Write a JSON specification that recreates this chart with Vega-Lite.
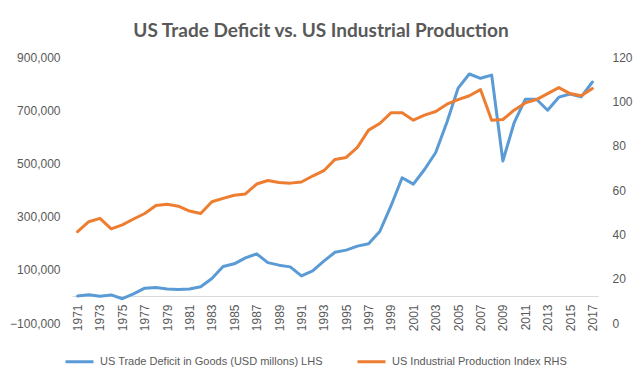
{
  "$schema": "https://vega.github.io/schema/vega-lite/v6.json",
  "width": 526,
  "height": 266,
  "autosize": {"type": "none"},
  "padding": {"left": 72, "top": 57, "right": 45, "bottom": 54},
  "background": "white",
  "title": {
    "text": "US Trade Deficit vs. US Industrial Production",
    "font": "Lato",
    "fontSize": 19,
    "fontWeight": "bold",
    "color": "#595959",
    "anchor": "middle",
    "dx": -14,
    "offset": 10
  },
  "config": {
    "view": {"stroke": null},
    "font": "Liberation Sans",
    "axis": {"labelColor": "#595959", "labelFont": "Liberation Sans", "labelFontSize": 12, "grid": false, "ticks": false, "title": null},
    "legend": {"labelColor": "#595959", "labelFont": "Liberation Sans", "labelFontSize": 11, "labelLimit": 400}
  },
  "data": {
    "values": [
      {"year": 1971, "deficit": 1500, "ip": 41.2},
      {"year": 1972, "deficit": 6300, "ip": 45.7},
      {"year": 1973, "deficit": 900, "ip": 47.2},
      {"year": 1974, "deficit": 5500, "ip": 42.5},
      {"year": 1975, "deficit": -8700, "ip": 44.3},
      {"year": 1976, "deficit": 9500, "ip": 46.9},
      {"year": 1977, "deficit": 31000, "ip": 49.4},
      {"year": 1978, "deficit": 33800, "ip": 53.0},
      {"year": 1979, "deficit": 28000, "ip": 53.6},
      {"year": 1980, "deficit": 25500, "ip": 52.7},
      {"year": 1981, "deficit": 28000, "ip": 50.5},
      {"year": 1982, "deficit": 36500, "ip": 49.4},
      {"year": 1983, "deficit": 67000, "ip": 54.7},
      {"year": 1984, "deficit": 112500, "ip": 56.2},
      {"year": 1985, "deficit": 122500, "ip": 57.6},
      {"year": 1986, "deficit": 145000, "ip": 58.2},
      {"year": 1987, "deficit": 160000, "ip": 62.7},
      {"year": 1988, "deficit": 127000, "ip": 64.3},
      {"year": 1989, "deficit": 117500, "ip": 63.4},
      {"year": 1990, "deficit": 111000, "ip": 63.1},
      {"year": 1991, "deficit": 77000, "ip": 63.6},
      {"year": 1992, "deficit": 96000, "ip": 66.3},
      {"year": 1993, "deficit": 132500, "ip": 68.7},
      {"year": 1994, "deficit": 165800, "ip": 73.8},
      {"year": 1995, "deficit": 174000, "ip": 74.7},
      {"year": 1996, "deficit": 189000, "ip": 79.2},
      {"year": 1997, "deficit": 198000, "ip": 87.0},
      {"year": 1998, "deficit": 244000, "ip": 90.0},
      {"year": 1999, "deficit": 340000, "ip": 94.8},
      {"year": 2000, "deficit": 446000, "ip": 94.8},
      {"year": 2001, "deficit": 422000, "ip": 91.5},
      {"year": 2002, "deficit": 477000, "ip": 93.8},
      {"year": 2003, "deficit": 541000, "ip": 95.4},
      {"year": 2004, "deficit": 655000, "ip": 98.7},
      {"year": 2005, "deficit": 783000, "ip": 100.8},
      {"year": 2006, "deficit": 836000, "ip": 102.5},
      {"year": 2007, "deficit": 820000, "ip": 105.3},
      {"year": 2008, "deficit": 832000, "ip": 91.5},
      {"year": 2009, "deficit": 509000, "ip": 91.8},
      {"year": 2010, "deficit": 652000, "ip": 96.0},
      {"year": 2011, "deficit": 741000, "ip": 99.3},
      {"year": 2012, "deficit": 741000, "ip": 100.8},
      {"year": 2013, "deficit": 700000, "ip": 103.5},
      {"year": 2014, "deficit": 749000, "ip": 106.2},
      {"year": 2015, "deficit": 761000, "ip": 103.5},
      {"year": 2016, "deficit": 750000, "ip": 102.5},
      {"year": 2017, "deficit": 806000, "ip": 105.8}
    ]
  },
  "encoding": {
    "x": {
      "field": "year",
      "type": "ordinal",
      "scale": {"type": "point", "padding": 0.5},
      "axis": {
        "values": [1971,1973,1975,1977,1979,1981,1983,1985,1987,1989,1991,1993,1995,1997,1999,2001,2003,2005,2007,2009,2011,2013,2015,2017],
        "labelAngle": -90,
        "labelPadding": 8,
        "offset": -27,
        "domain": true,
        "domainColor": "#D9D9D9",
        "domainWidth": 1
      }
    }
  },
  "layer": [
    {
      "mark": {"type": "line", "strokeWidth": 3, "strokeJoin": "round", "strokeCap": "round"},
      "encoding": {
        "y": {
          "field": "deficit",
          "type": "quantitative",
          "scale": {"domain": [-100000, 900000], "nice": false, "zero": false},
          "axis": {"orient": "left", "values": [-100000, 100000, 300000, 500000, 700000, 900000], "format": ",.0f", "domain": false, "labelPadding": 12}
        },
        "color": {
          "datum": "US Trade Deficit in Goods (USD millons) LHS",
          "type": "nominal",
          "scale": {
            "domain": ["US Trade Deficit in Goods (USD millons) LHS", "US Industrial Production Index RHS"],
            "range": ["#5B9BD5", "#ED7D31"]
          },
          "legend": {
            "title": null,
            "orient": "none",
            "direction": "horizontal",
            "legendX": -8,
            "legendY": 289,
            "symbolType": "stroke",
            "symbolSize": 784,
            "symbolStrokeWidth": 3,
            "labelOffset": 5,
            "columnPadding": 28
          }
        }
      }
    },
    {
      "mark": {"type": "line", "strokeWidth": 3, "strokeJoin": "round", "strokeCap": "round"},
      "encoding": {
        "y": {
          "field": "ip",
          "type": "quantitative",
          "scale": {"domain": [0, 120], "nice": false},
          "axis": {"orient": "right", "values": [0, 20, 40, 60, 80, 100, 120], "domain": false, "labelPadding": 14}
        },
        "color": {"datum": "US Industrial Production Index RHS", "type": "nominal"}
      }
    }
  ],
  "resolve": {"scale": {"y": "independent"}}
}
